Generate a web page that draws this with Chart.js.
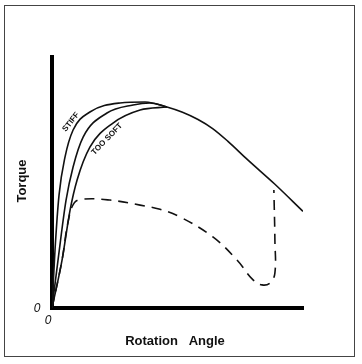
<!DOCTYPE html>
<html>
<head>
<meta charset="utf-8">
<script src="https://cdn.jsdelivr.net/npm/chart.js@4.4.1/dist/chart.umd.min.js"></script>
<style>
  body { margin: 0; background: #fff; }
  #frame { position: absolute; left: 4px; top: 5px; width: 349px; height: 350px; border: 1.5px solid #444; }
  #wrap { position: absolute; left: 0; top: 0; width: 362px; height: 364px; }
</style>
</head>
<body>
<div id="frame"></div>
<div id="wrap"><canvas id="c" width="362" height="364"></canvas></div>
<script>
// curves, x = rotation angle, y = torque (0..100 on both axes)
var stiffX = [0, 1.2, 2.8, 5.2, 8.4, 15.1, 27.1, 37.1, 45.8, 52, 58, 64, 70, 78, 88.6, 100];
var stiffY = [0, 23.1, 45, 60.2, 70.9, 78.1, 81.7, 82.1, 80.1, 78, 75.2, 71.5, 66.5, 59, 49.5, 38.5];

var midX = [0, 2.4, 5.6, 8.4, 12.4, 21.9, 32.3, 39, 45.8];
var midY = [0, 19.1, 43, 56.2, 68.1, 77.7, 80.9, 81.7, 80.1];

var softX = [0, 4, 7.2, 10, 15.1, 24.3, 35.1, 45.8];
var softY = [0, 19.1, 39, 51, 64.1, 73.7, 78.9, 80.1];

var dashX = [0, 4, 6.4, 8.8, 12.4, 23.1, 35.1, 43, 51, 64.1, 73.7, 80.1, 83.7, 86.9, 88.8, 88.8, 88.4];
var dashY = [0, 19.1, 34.3, 41.8, 43.4, 43, 41, 39.3, 36.3, 28.3, 19.1, 11.2, 9.2, 10, 13.9, 27.1, 47];

function pts(xs, ys) {
  var out = [];
  for (var i = 0; i < xs.length; i++) out.push({x: xs[i], y: ys[i]});
  return out;
}

var labels = {
  id: 'labels',
  afterDraw: function(chart) {
    var ctx = chart.ctx;
    var a = chart.chartArea;
    ctx.save();
    ctx.fillStyle = '#111';
    ctx.textAlign = 'center';
    ctx.textBaseline = 'middle';

    ctx.font = 'bold 13px "Liberation Sans", Arial, sans-serif';
    ctx.fillText('Rotation   Angle', 175, 341);

    ctx.save();
    ctx.translate(22, 181);
    ctx.rotate(-Math.PI / 2);
    ctx.fillText('Torque', 0, 0);
    ctx.restore();

    ctx.font = 'italic 12px "Liberation Sans", Arial, sans-serif';
    ctx.fillText('0', a.left - 15, a.bottom + 1);
    ctx.fillText('0', a.left - 4, a.bottom + 13);

    ctx.font = 'bold 8px "Liberation Sans", Arial, sans-serif';
    ctx.save();
    ctx.translate(71, 122);
    ctx.rotate(-0.9);
    ctx.fillText('STIFF', 0, 0);
    ctx.restore();

    ctx.save();
    ctx.translate(107, 139);
    ctx.rotate(-0.8);
    ctx.fillText('TOO SOFT', 0, 0);
    ctx.restore();
    ctx.restore();
  }
};

var common = { showLine: true, borderColor: '#111', borderWidth: 1.6, pointRadius: 0, tension: 0.4, fill: false, cubicInterpolationMode: 'monotone' };

new Chart(document.getElementById('c'), {
  type: 'scatter',
  data: {
    datasets: [
      Object.assign({ data: pts(stiffX, stiffY) }, common),
      Object.assign({ data: pts(midX, midY) }, common),
      Object.assign({ data: pts(softX, softY) }, common),
      Object.assign({ data: pts(dashX, dashY), borderDash: [10, 7] }, common, { cubicInterpolationMode: 'default' })
    ]
  },
  options: {
    responsive: false,
    animation: false,
    events: [],
    layout: { padding: { left: 52, top: 57, right: 59, bottom: 56 } },
    plugins: { legend: { display: false }, tooltip: { enabled: false } },
    scales: {
      x: {
        type: 'linear', min: 0, max: 100,
        ticks: { display: false },
        grid: { display: false, drawTicks: false },
        border: { display: true, width: 4, color: '#000' }
      },
      y: {
        type: 'linear', min: 0, max: 100,
        ticks: { display: false },
        grid: { display: false, drawTicks: false },
        border: { display: true, width: 4, color: '#000' }
      }
    }
  },
  plugins: [labels]
});
</script>
</body>
</html>
